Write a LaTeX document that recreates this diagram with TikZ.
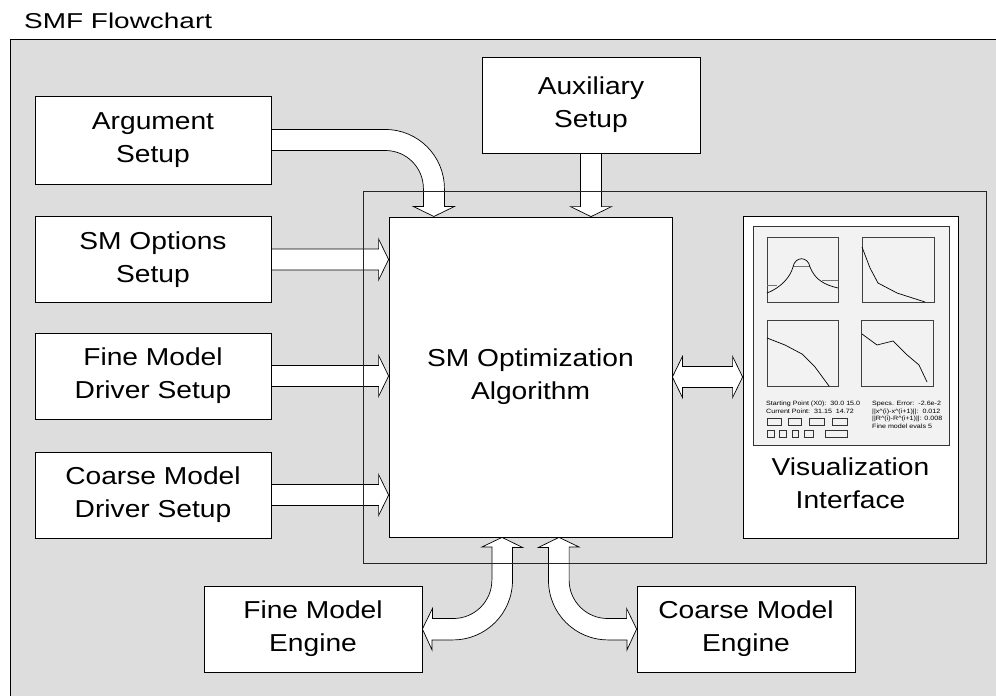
\documentclass[tikz,border=0pt]{standalone}
\usepackage{fontspec}
\setmainfont{Liberation Sans}[FakeStretch=1.15]
\newfontfamily\titlefont{Liberation Sans}[FakeStretch=1.3]
\usetikzlibrary{calc}
\pgfdeclarelayer{back}
\pgfdeclarelayer{mid}
\pgfsetlayers{back,mid,main}

\definecolor{panelgray}{HTML}{DDDDDD}
\definecolor{screengray}{HTML}{F2F2F2}

% wide outlined arrows
\newcommand{\blockright}[2]{%
  \draw[barrow] ($(#1)+(0,-10.5)$) -- ($(#2)+(-10,-10.5)$) -- ($(#2)+(-10,-20.5)$)
    -- (#2) -- ($(#2)+(-10,20.5)$) -- ($(#2)+(-10,10.5)$) -- ($(#1)+(0,10.5)$);}
\newcommand{\blockdown}[2]{%
  \draw[barrow] ($(#1)+(-10.5,0)$) -- ($(#2)+(-10.5,-10)$) -- ($(#2)+(-20.5,-10)$)
    -- (#2) -- ($(#2)+(20.5,-10)$) -- ($(#2)+(10.5,-10)$) -- ($(#1)+(10.5,0)$);}
\newcommand{\blockboth}[2]{%
  \draw[barrow] (#1) -- ($(#1)+(10,-20.5)$) -- ($(#1)+(10,-10.5)$) -- ($(#2)+(-10,-10.5)$)
    -- ($(#2)+(-10,-20.5)$) -- (#2) -- ($(#2)+(-10,20.5)$) -- ($(#2)+(-10,10.5)$)
    -- ($(#1)+(10,10.5)$) -- ($(#1)+(10,20.5)$) -- cycle;}

\begin{document}
\begin{tikzpicture}[x=1pt, y=-1pt,
      box/.style = {shape=rectangle, draw, fill=white, align=center,
        inner sep=0pt, line width=0.8pt,
        font=\fontsize{24.5}{33}\selectfont},
      barrow/.style = {draw, fill=white, line width=0.7pt, line join=miter},
      plotbox/.style = {draw=black!75, fill=screengray, line width=0.6pt},
      curve/.style = {draw=black, line width=0.7pt},
      marker/.style = {draw=black!55, line width=0.9pt},
      btn/.style = {draw=black!80, line width=0.5pt},
      small/.style = {anchor=base west, inner sep=0pt,
        font=\fontsize{6.2}{7}\selectfont}]
  \useasboundingbox (0,0) rectangle (996,696);

  \begin{pgfonlayer}{back}
    \draw[fill=panelgray, line width=0.8pt] (10,39) rectangle (1010,710);
  \end{pgfonlayer}
  \node[anchor=base west, inner sep=0pt,
    font=\titlefont\fontsize{21.5}{24}\selectfont] (title) at (24,28) {SMF Flowchart};

  % setup boxes
  \node[box, minimum width=236pt, minimum height=88pt] (arg) at (153,140) {Argument\\Setup};
  \node[box, minimum width=236pt, minimum height=86pt] (sopt) at (153,259.5) {SM Options\\Setup};
  \node[box, minimum width=236pt, minimum height=86pt] (fmd) at (153,376) {Fine Model\\Driver Setup};
  \node[box, minimum width=236pt, minimum height=86pt] (cmd) at (153,495) {Coarse Model\\Driver Setup};
  \node[box, minimum width=218pt, minimum height=96pt] (aux) at (591,105) {Auxiliary\\Setup};

  % core
  \node[box, minimum width=283pt, minimum height=320pt] (oa) at (530.5,377) {SM Optimization\\Algorithm};
  \node[box, minimum width=215pt, minimum height=322pt] (viz) at (850.5,377) {};
  \node[align=center, inner sep=0pt, font=\fontsize{24.5}{33}\selectfont] (vizlabel)
    at (850.5,483) {Visualization\\Interface};

  % engines
  \node[box, minimum width=218pt, minimum height=86pt] (fme) at (313,629) {Fine Model\\Engine};
  \node[box, minimum width=218pt, minimum height=86pt] (cme) at (746,629) {Coarse Model\\Engine};

  % screen mock-up
  \draw[draw=black!80, fill=screengray, line width=0.6pt] (753,226) rectangle (949,445);
  \draw[plotbox] (767,237) rectangle (838,302);
  \draw[plotbox] (862,237) rectangle (934,302);
  \draw[plotbox] (767,320) rectangle (838,386);
  \draw[plotbox] (861,320) rectangle (933,386);
  \draw[marker] (767,285) -- (777,285) (793,266) -- (810,266) (822,280) -- (838,280);
  \draw[curve] (767,293) .. controls (780,288) and (790,278) .. (793,267)
    .. controls (795,256) and (808,256) .. (810,267)
    .. controls (815,280) and (825,285) .. (838,288);
  \draw[curve] (862,247) -- (870,268) -- (878,283) -- (897,293) -- (925,302);
  \draw[curve] (767,338) -- (785,345) -- (802,354) -- (815,367) -- (829,386);
  \draw[curve] (862,334) -- (877,345) -- (893,341) -- (906,354) -- (919,365) -- (927,382);
  \node[small] (start) at (766,405.5) {Starting Point (X0):\ \ 30.0 15.0};
  \node[small] (current) at (766,413) {Current Point:\ \ 31.15\ \ 14.72};
  \node[small] (specs) at (872,405.5) {Specs. Error:\ \ -2.6e-2};
  \node[small] (dx) at (872,413) {||x\textasciicircum(i)-x\textasciicircum(i+1)||:\ \ 0.012};
  \node[small] (dr) at (872,420.5) {||R\textasciicircum(i)-R\textasciicircum(i+1)||: 0.008};
  \node[small] (evals) at (872,428) {Fine model evals 5};
  \foreach \a/\b in {767/781,788/801,809/824,832/847}
    \draw[btn] (\a,418) rectangle (\b,425);
  \foreach \a/\b in {767/774,779/786,792/798,804/813,825/847}
    \draw[btn] (\a,430) rectangle (\b,437);

  \begin{pgfonlayer}{mid}
    \draw[barrow] ($(arg.east)+(0,-10.5)$) -- ++(114,0)
      .. controls +(32.6,0) and +(0,-32.6) .. ++(59,59) -- ++(0,18)
      -- ++(10,0) -- ++(-20.5,10) -- ++(-20.5,-10) -- ++(10,0) -- ++(0,-18)
      .. controls +(0,-21) and +(21,0) .. ++(-38,-38) -- ++(-114,0);
    \blockdown{aux.south}{aux.south|-oa.north}
    \blockright{sopt.east}{sopt.east-|oa.west}
    \blockright{fmd.east}{fmd.east-|oa.west}
    \blockright{cmd.east}{cmd.east-|oa.west}
    \blockboth{oa.east}{oa.east-|viz.west}
    \draw[barrow] ($(oa.south)+(-28.5,0)$) -- ++(20.5,10) -- ++(-10,0) -- ++(0,33)
      .. controls +(0,32.9) and +(32.9,0) .. ++(-59.5,59.5) -- ++(-21,0) -- ++(0,10)
      -- (fme.east) -- ++(10,-20.5) -- ++(0,10) -- ++(21,0)
      .. controls +(21.3,0) and +(0,21.3) .. ++(38.5,-38.5) -- ++(0,-33) -- ++(-10,0) -- cycle;
    \draw[barrow] ($(oa.south)+(28.5,0)$) -- ++(-20.5,10) -- ++(10,0) -- ++(0,33)
      .. controls +(0,32.9) and +(-32.9,0) .. ++(59.5,59.5) -- ++(19,0) -- ++(0,10)
      -- (cme.west) -- ++(-10,-20.5) -- ++(0,10) -- ++(-19,0)
      .. controls +(-21.3,0) and +(0,21.3) .. ++(-38.5,-38.5) -- ++(0,-33) -- ++(10,0) -- cycle;
    % frame round the core
    \draw[line width=0.8pt, black!85] (363,191) rectangle (986,563);
  \end{pgfonlayer}
\end{tikzpicture}
\end{document}
